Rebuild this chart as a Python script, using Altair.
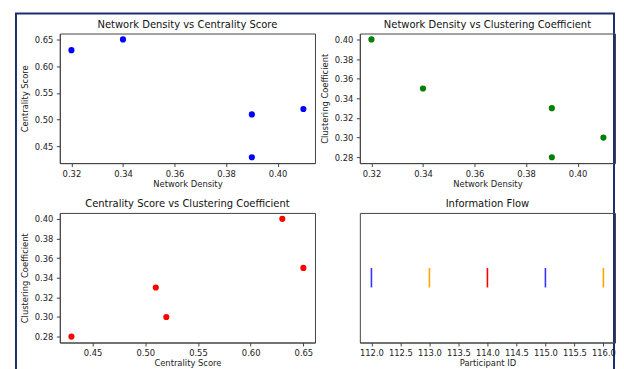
import altair as alt
import pandas as pd

# ---- data ----
participant_ids = [112, 113, 114, 115, 116]
network_density = [0.32, 0.34, 0.39, 0.39, 0.41]
centrality_score = [0.63, 0.65, 0.51, 0.43, 0.52]
clustering_coeff = [0.40, 0.35, 0.33, 0.28, 0.30]

density_ticks = [0.32, 0.34, 0.36, 0.38, 0.40]
centrality_ticks = [0.45, 0.50, 0.55, 0.60, 0.65]
clustering_ticks = [0.28, 0.30, 0.32, 0.34, 0.36, 0.38, 0.40]
participant_ticks = [112.0, 112.5, 113.0, 113.5, 114.0, 114.5, 115.0, 115.5, 116.0]

flow_colors = ["#3333ff", "orange", "red", "#3333ff", "orange"]

df = pd.DataFrame({
    "participant": participant_ids,
    "density": network_density,
    "centrality": centrality_score,
    "clustering": clustering_coeff,
})

FONT = "DejaVu Sans"
W, H = 256, 130
AX = "#444444"
TXT = "#222222"


def padded(vals, frac=0.05):
    lo, hi = min(vals), max(vals)
    m = (hi - lo) * frac
    return [lo - m, hi + m]


def scatter(xcol, ycol, xvals, yvals, xtitle, ytitle, xticks, yticks, color, xfmt=".2f", yfmt=".2f"):
    return alt.Chart(df).mark_circle(size=38, color=color, opacity=1).encode(
        x=alt.X(f"{xcol}:Q",
                scale=alt.Scale(domain=padded(xvals), nice=False, zero=False),
                axis=alt.Axis(title=xtitle, values=xticks, format=xfmt)),
        y=alt.Y(f"{ycol}:Q",
                scale=alt.Scale(domain=padded(yvals), nice=False, zero=False),
                axis=alt.Axis(title=ytitle, values=yticks, format=yfmt)),
    )


def ttl(text, offset=4):
    return alt.TitleParams(text, frame="group", offset=offset)


# decorative figure frame (drawn from the first panel, extends past it)
border = alt.Chart(alt.Data(values=[{"k": 1}])).mark_rect(
    fill="white", fillOpacity=0, stroke="#1c2f6e", strokeWidth=2
).encode(
    x=alt.value(-44), x2=alt.value(556), y=alt.value(-20), y2=alt.value(345)
)

p1 = alt.layer(
    border,
    scatter("density", "centrality", network_density, centrality_score,
            "Network Density", "Centrality Score", density_ticks, centrality_ticks,
            "blue"),
).properties(width=W, height=H, title=ttl("Network Density vs Centrality Score", offset=-17))

p2 = scatter("density", "clustering", network_density, clustering_coeff,
             "Network Density", "Clustering Coefficient", density_ticks, clustering_ticks,
             "green").properties(width=W, height=H, title=ttl("Network Density vs Clustering Coefficient"))

p3 = scatter("centrality", "clustering", centrality_score, clustering_coeff,
             "Centrality Score", "Clustering Coefficient", centrality_ticks, clustering_ticks,
             "red").properties(width=W, height=H, title=ttl("Centrality Score vs Clustering Coefficient"))

event_offset = 1.0
event_length = 0.3

p4 = alt.Chart(df).transform_calculate(
    lo=f"{event_offset - event_length / 2}",
    hi=f"{event_offset + event_length / 2}",
).mark_rule(strokeWidth=1.6).encode(
    x=alt.X("participant:Q",
            scale=alt.Scale(domain=padded(participant_ids), nice=False, zero=False),
            axis=alt.Axis(title="Participant ID", values=participant_ticks, format=".1f")),
    y=alt.Y("lo:Q", scale=alt.Scale(domain=[0, 2], nice=False, zero=False), axis=None),
    y2="hi:Q",
    color=alt.Color("participant:N",
                    scale=alt.Scale(domain=participant_ids, range=flow_colors),
                    legend=None),
).properties(width=W, height=H, title=ttl("Information Flow"))

chart = alt.concat(
    p1, p2, p3, p4, columns=2,
    spacing={"row": 50, "column": 45}, bounds="flush",
).properties(
    padding={"left": 6, "top": 3, "right": 0, "bottom": 0},
    background="white",
).configure_view(
    stroke=AX, strokeWidth=1
).configure_axis(
    labelFont=FONT, titleFont=FONT,
    labelFontSize=8.4, titleFontSize=8.4,
    titleFontWeight="normal",
    labelColor=TXT, titleColor=TXT,
    tickColor=AX, domainColor=AX,
    tickSize=3.5, grid=False,
    labelPadding=3,
    labelFlush=False, labelOverlap=False,
).configure_axisX(
    titlePadding=1.5
).configure_axisY(
    titlePadding=4.5, labelPadding=3.5
).configure_title(
    font=FONT, fontSize=10, fontWeight="normal", color="#111111"
)

chart.save("out.html", embed_options={"renderer": "svg", "actions": False})
